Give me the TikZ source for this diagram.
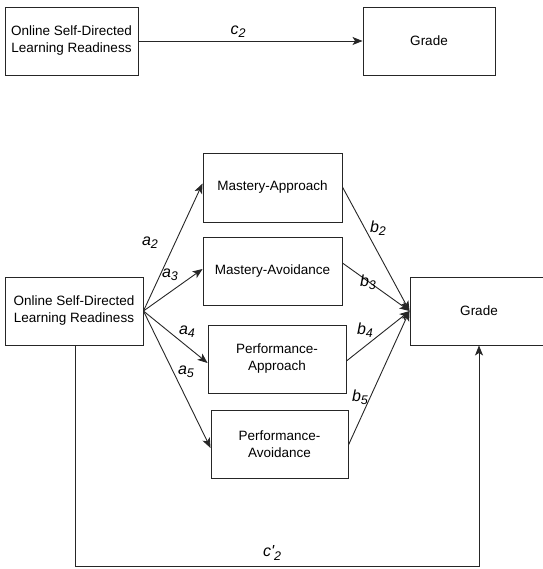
\documentclass[tikz,border=0pt]{standalone}
\usepackage{fontspec}
\setmainfont{Liberation Sans}
\usetikzlibrary{arrows.meta}
% path coefficient label: italic letter with a lowered index
\newcommand{\coef}[2]{#1\raisebox{-0.4ex}{\fontsize{12.5}{13}\selectfont #2}}
\begin{document}
\begin{tikzpicture}[x=1pt,y=-1pt,
  box/.style={draw=black!85, line width=0.9pt, minimum height=68pt, align=center,
    font=\fontsize{13.5}{17}\selectfont, inner sep=0pt},
  conn/.style={draw=black!85, line width=0.9pt,
    -{Stealth[length=10pt,width=8pt,inset=2.5pt]}},
  lbl/.style={font=\fontsize{16}{18}\selectfont\itshape, inner sep=0pt}]
\useasboundingbox (0,0) rectangle (542,569);
% direct effect model
\node[box, minimum width=133pt] (ol1) at (71.5,41) {Online Self-Directed\\Learning Readiness};
\node[box, minimum width=132pt] (gr1) at (429,41) {Grade};
\draw[conn] (ol1) -- (gr1);
\node[lbl] (c2) at (238,32) {\coef{c}{2}};
% mediation model
\node[box, minimum width=138pt] (ol) at (74,311) {Online Self-Directed\\Learning Readiness};
\node[box, minimum width=139pt, minimum height=69pt] (ma) at (272.5,187.5) {Mastery-Approach};
\node[box, minimum width=139pt] (mv) at (272.5,271) {Mastery-Avoidance};
\node[box, minimum width=138pt] (pa) at (277,359) {Performance-\\Approach};
\node[box, minimum width=137pt] (pv) at (279.5,444) {Performance-\\Avoidance};
\node[box, minimum width=138pt] (gr) at (479,311) {Grade};
\draw[conn] (ol.east) -- ([yshift=4pt]ma.west);
\draw[conn] (ol.east) -- ([yshift=2pt]mv.west);
\draw[conn] (ol.east) -- ([yshift=-4pt]pa.west);
\draw[conn] (ol.east) -- ([yshift=-4pt]pv.west);
\draw[conn] ([yshift=0.5pt]ma.east) -- (gr.west);
\draw[conn] ([yshift=8pt]mv.east) -- (gr.west);
\draw[conn] ([yshift=-2pt]pa.east) -- (gr.west);
\draw[conn] ([yshift=-1pt]pv.east) -- (gr.west);
\coordinate (cl) at (75,566);
\coordinate (cr) at (479,566);
\draw[conn] ([xshift=1pt]ol.south) -- (cl) -- (cr) -- (gr.south);
\node[lbl] (la2) at (150,243) {\coef{a}{2}};
\node[lbl] (la3) at (170,275) {\coef{a}{3}};
\node[lbl] (la4) at (187,332) {\coef{a}{4}};
\node[lbl] (la5) at (186,372) {\coef{a}{5}};
\node[lbl] (lb2) at (378,228) {\coef{b}{2}};
\node[lbl] (lb3) at (368,282) {\coef{b}{3}};
\node[lbl] (lb4) at (365,330) {\coef{b}{4}};
\node[lbl] (lb5) at (360,397) {\coef{b}{5}};
\node[lbl] (lc2p) at (272,553) {\coef{c\textquotesingle}{2}};
\end{tikzpicture}
\end{document}
